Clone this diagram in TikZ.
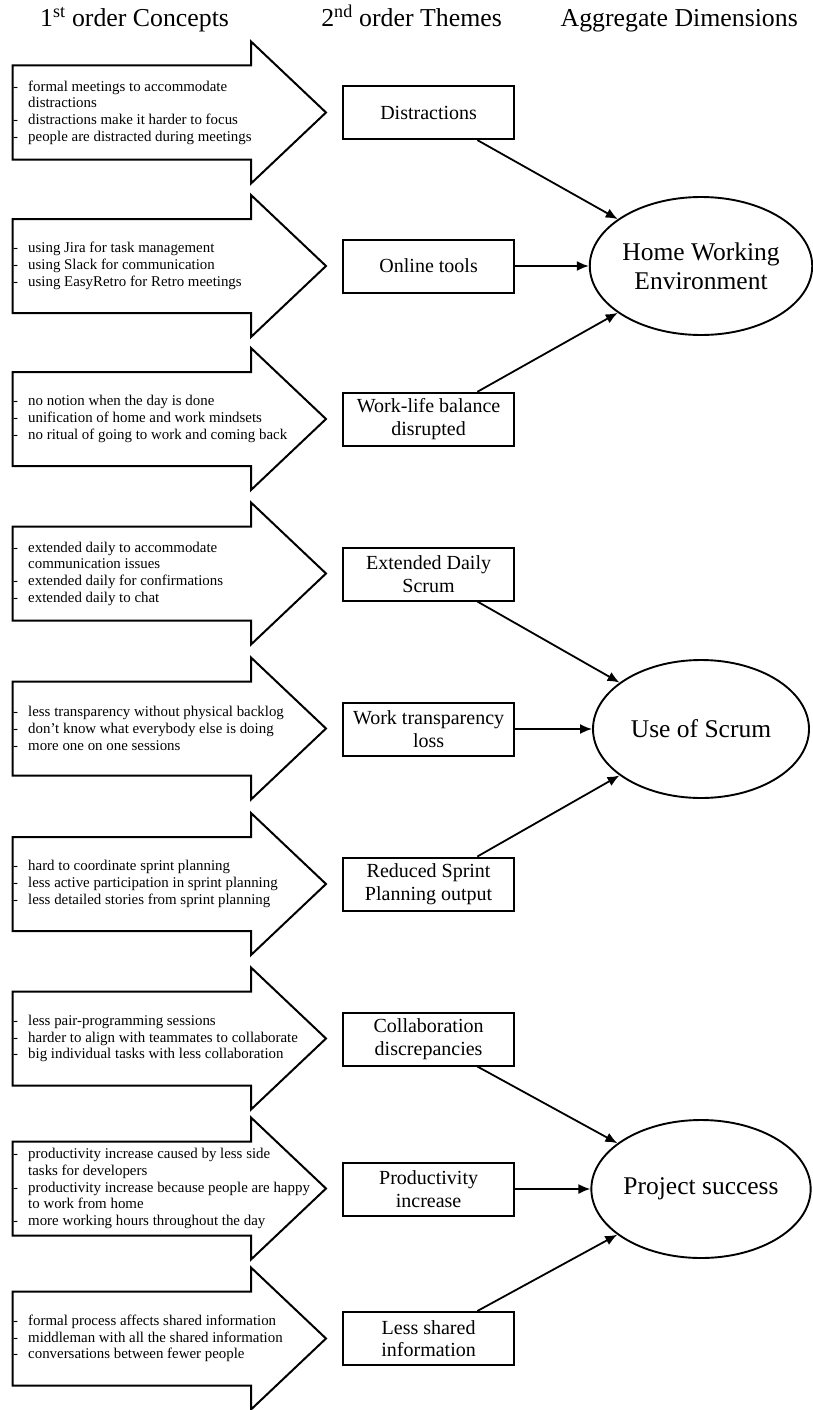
\documentclass[tikz,border=0pt]{standalone}
\usepackage{fontspec}
\setmainfont{Liberation Serif}
\usetikzlibrary{shapes.geometric,arrows.meta,calc}
\newcommand{\itemdash}[1]{\makebox[15pt][l]{-}#1}
\newcommand{\itemcont}[1]{\hspace*{15pt}#1}
\tikzset{
  blockarrow/.style={draw, line width=2pt, fill=white, line join=miter},
  listtext/.style={anchor=west, align=left, inner sep=0pt, font=\fontsize{14.9}{16.7}\selectfont},
  theme/.style={draw, line width=2pt, minimum width=171.5pt, minimum height=53pt, inner sep=2pt, align=center, font=\fontsize{20}{22.7}\selectfont},
  dimension/.style={draw, ellipse, line width=1.9pt, minimum width=216pt, minimum height=138pt, inner sep=0pt, align=center, font=\fontsize{25.5}{29.3}\selectfont},
  link/.style={line width=1.8pt, -{Latex[length=12pt,width=10pt]}},
  title/.style={font=\fontsize{25.8}{30}\selectfont, inner sep=0pt}
}
\newcommand{\conceptarrow}[3]{%
  \begin{scope}[shift={(0,#1)}]
    \draw[blockarrow] (12.7,-47) -- (251,-47) -- (251,-71) -- (326,0) -- (251,71) -- (251,47) -- (12.7,47) -- cycle;
    \node[listtext] (#2) at (13,0) {#3};
  \end{scope}}
\begin{document}
\begin{tikzpicture}[x=1pt,y=-1pt]
\useasboundingbox (0,0) rectangle (812,1410);
\fill[white] (0,0) rectangle (812,1410);

% titles
\node[title, anchor=base west] (h1) at (40,27) {1\textsuperscript{st} order Concepts};
\node[title, anchor=base east] (h2) at (502,27) {2\textsuperscript{nd} order Themes};
\node[title, anchor=base east] (h3) at (798,27) {Aggregate Dimensions};

% first order concepts
\conceptarrow{112.5}{c1}{\itemdash{formal meetings to accommodate}\\\itemcont{distractions}\\\itemdash{distractions make it harder to focus}\\\itemdash{people are distracted during meetings}}
\conceptarrow{266}{c2}{\itemdash{using Jira for task management}\\\itemdash{using Slack for communication}\\\itemdash{using EasyRetro for Retro meetings}}
\conceptarrow{419}{c3}{\itemdash{no notion when the day is done}\\\itemdash{unification of home and work mindsets}\\\itemdash{no ritual of going to work and coming back}}
\conceptarrow{573.5}{c4}{\itemdash{extended daily to accommodate}\\\itemcont{communication issues}\\\itemdash{extended daily for confirmations}\\\itemdash{extended daily to chat}}
\conceptarrow{728.5}{c5}{\itemdash{less transparency without physical backlog}\\\itemdash{don’t know what everybody else is doing}\\\itemdash{more one on one sessions}}
\conceptarrow{884}{c6}{\itemdash{hard to coordinate sprint planning}\\\itemdash{less active participation in sprint planning}\\\itemdash{less detailed stories from sprint planning}}
\conceptarrow{1038.5}{c7}{\itemdash{less pair-programming sessions}\\\itemdash{harder to align with teammates to collaborate}\\\itemdash{big individual tasks with less collaboration}}
\conceptarrow{1188.5}{c8}{\itemdash{productivity increase caused by less side}\\\itemcont{tasks for developers}\\\itemdash{productivity increase because people are happy}\\\itemcont{to work from home}\\\itemdash{more working hours throughout the day}}
\conceptarrow{1338.5}{c9}{\itemdash{formal process affects shared information}\\\itemdash{middleman with all the shared information}\\\itemdash{conversations between fewer people}}

% second order themes
\node[theme] (t1) at (428.6,112.6) {Distractions};
\node[theme] (t2) at (428.6,266) {Online tools};
\node[theme] (t3) at (428.6,419.3) {Work-life balance\\disrupted};
\node[theme] (t4) at (428.6,574) {Extended Daily\\Scrum};
\node[theme] (t5) at (428.6,729) {Work transparency\\loss};
\node[theme] (t6) at (428.6,884) {Reduced Sprint\\Planning output};
\node[theme] (t7) at (428.6,1039) {Collaboration\\discrepancies};
\node[theme] (t8) at (428.6,1189) {Productivity\\increase};
\node[theme] (t9) at (428.6,1338.5) {Less shared\\information};

% aggregate dimensions
\node[dimension] (d1) at (701,266) {Home Working\\Environment};
\node[dimension] (d2) at (701,729) {Use of Scrum};
\node[dimension] (d3) at (701,1189) {Project success};

% links
\draw[link] ($(t1.south west)!0.781!(t1.south east)$) -- (d1);
\draw[link] (t2) -- (d1);
\draw[link] ($(t3.north west)!0.781!(t3.north east)$) -- (d1);
\draw[link] ($(t4.south west)!0.781!(t4.south east)$) -- (d2);
\draw[link] (t5) -- (d2);
\draw[link] ($(t6.north west)!0.781!(t6.north east)$) -- (d2);
\draw[link] ($(t7.south west)!0.781!(t7.south east)$) -- (d3);
\draw[link] (t8) -- (d3);
\draw[link] ($(t9.north west)!0.781!(t9.north east)$) -- (d3);
\end{tikzpicture}
\end{document}
